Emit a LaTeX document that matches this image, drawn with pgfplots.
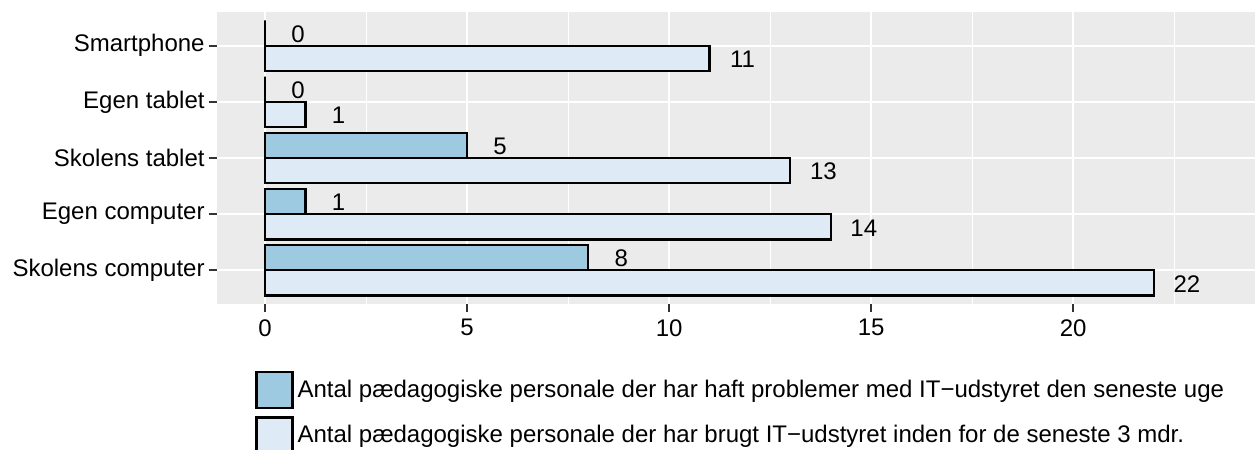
\documentclass[border=0pt]{standalone}
\usepackage{fontspec}
\setmainfont{Liberation Sans}
\usepackage{pgfplots}
\pgfplotsset{compat=1.18}
\definecolor{panelgray}{HTML}{EBEBEB}
\definecolor{darkblue}{HTML}{9ECAE1}
\definecolor{lightblue}{HTML}{DEEBF7}
\definecolor{grey20}{HTML}{333333}
\begin{document}
\begin{tikzpicture}
\useasboundingbox (0,0) rectangle (627.5pt,225pt);
\begin{axis}[
  at={(108.5pt,73pt)}, anchor=south west,
  scale only axis, width=519pt, height=146pt,
  xmin=-1.19, xmax=24.5, ymin=0.4, ymax=5.6,
  axis background/.style={fill=panelgray},
  axis line style={draw=none},
  xtick={0,5,10,15,20},
  minor xtick={2.5,7.5,12.5,17.5,22.5},
  ytick={1,2,3,4,5},
  yticklabels={Skolens computer,Egen computer,Skolens tablet,Egen tablet,Smartphone},
  xmajorgrids, ymajorgrids, xminorgrids,
  major grid style={white, line width=1pt},
  minor grid style={white, line width=0.5pt},
  tick align=outside,
  xtick pos=left, ytick pos=left,
  major tick length=4pt,
  minor tick length=0pt,
  major tick style={grey20, line width=1pt},
  tick label style={font=\fontsize{12pt}{14pt}\selectfont, inner sep=0pt, text=black},
  xticklabel style={yshift=-3.5pt},
  yticklabel style={xshift=-2pt},
  /pgf/number format/assume math mode=true,
  xbar,
  bar width=0.45,
  nodes near coords,
  every node near coord/.append style={anchor=center, xshift=16.5pt, yshift=-0.5pt, font=\fontsize{12pt}{14pt}\selectfont, text=black},
  legend style={draw=none, fill=none, at={(0.0366,-0.229)}, anchor=north west,
    font=\fontsize{12pt}{14pt}\selectfont, inner sep=0pt, row sep=3.5pt,
    nodes={inner sep=0pt}, /tikz/every odd column/.append style={column sep=2pt}},
  legend cell align=left,
  clip=false,
]
\addplot[bar shift=0.225, fill=darkblue, draw=black, line width=1.1pt,
  legend image code/.code={\draw[fill=darkblue, draw=black, line width=1.1pt] (0pt,-9pt) rectangle (18pt,9pt);}]
  coordinates {(8,1) (1,2) (5,3) (0,4) (0,5)};
\addlegendentry{Antal pædagogiske personale der har haft problemer med IT−udstyret den seneste uge}
\addplot[bar shift=-0.225, fill=lightblue, draw=black, line width=1.1pt,
  legend image code/.code={\draw[fill=lightblue, draw=black, line width=1.1pt] (0pt,-9pt) rectangle (18pt,9pt);}]
  coordinates {(22,1) (14,2) (13,3) (1,4) (11,5)};
\addlegendentry{Antal pædagogiske personale der har brugt IT−udstyret inden for de seneste 3 mdr.}
\end{axis}
\end{tikzpicture}
\end{document}
